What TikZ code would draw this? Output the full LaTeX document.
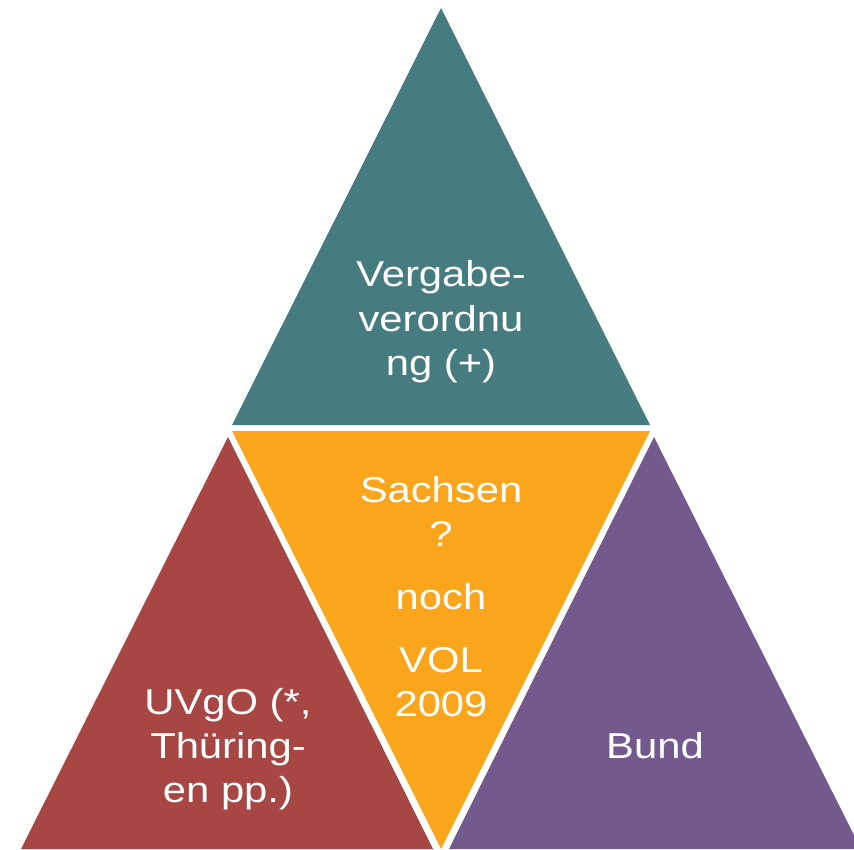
\documentclass[tikz,border=0pt]{standalone}
\usepackage{fontspec}
\setmainfont{Liberation Sans}[FakeStretch=1.16]
\usetikzlibrary{positioning}

\definecolor{vgvteal}{HTML}{467C80}
\definecolor{uvgored}{HTML}{A84644}
\definecolor{volorange}{HTML}{FAA51B}
\definecolor{bundpurple}{HTML}{725A8F}

\begin{document}
\begin{tikzpicture}[
    x=0.5pt, y=-0.5pt,
    label/.style={text=white, align=center, anchor=base, inner sep=0pt, font=\fontsize{18}{22}\selectfont}
  ]
    \useasboundingbox (0,0) rectangle (854,849);
    \begin{scope}
    \clip (0,0) rectangle (854,849);
    % four parts of the pyramid
    \fill[vgvteal] (441,8) -- (232,425) -- (650,425) -- cycle;
    \fill[volorange] (232,431) -- (650,431) -- (441,849) -- cycle;
    \fill[uvgored] (228,437) -- (21,849) -- (433,849) -- cycle;
    \fill[bundpurple] (654,437) -- (449,849) -- (861,849) -- cycle;
    \end{scope}

    % base anchor sits on the last line
    \node[label] (vgv) at (441,375) {Vergabe-\\verordnu\\ng (+)};
    \node[label] (sachsen) at (441,716) {Sachsen\\?\\[9.5pt]noch\\[9.5pt]VOL\\2009};
    \node[label] (uvgo) at (228,802) {UVgO (*,\\Thüring-\\en pp.)};
    \node[label] (bund) at (655,758) {Bund};
  \end{tikzpicture}
\end{document}
